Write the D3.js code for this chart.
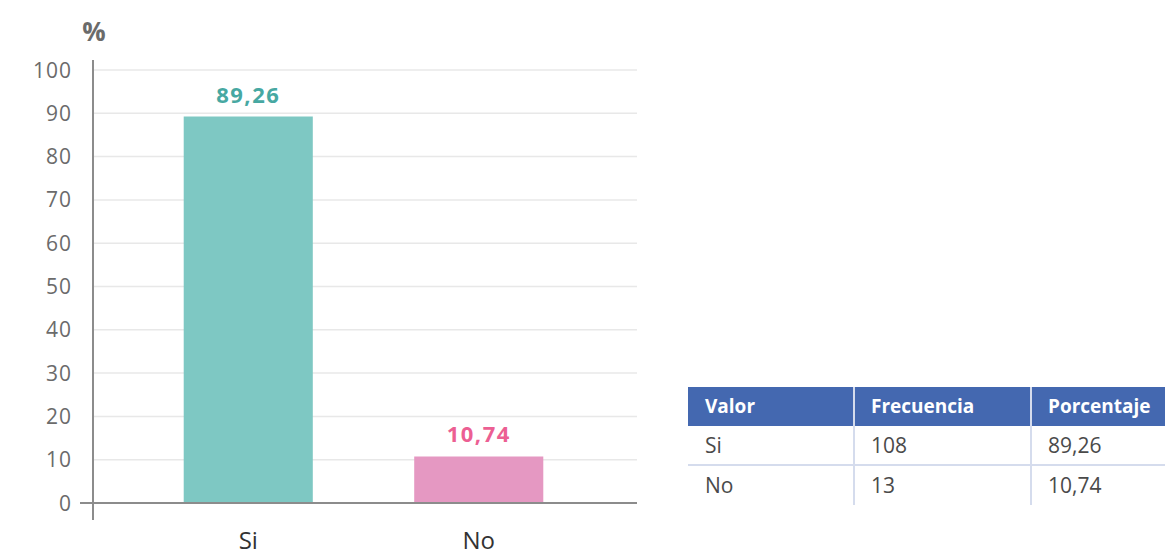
<!DOCTYPE html>
<html>
<head>
<meta charset="utf-8">
<script src="https://cdn.jsdelivr.net/npm/d3@7"></script>
<style>
  body { margin: 0; background: #fff; }
  svg { font-family: "Open Sans", "Noto Sans", sans-serif; }
</style>
</head>
<body>
<svg width="1165" height="557"></svg>
<script>
const categories = ["Si", "No"];
const percentages = [89.26, 10.74];
const frequencies = [108, 13];
const yTicks = [0, 10, 20, 30, 40, 50, 60, 70, 80, 90, 100];
const tableHeader = ["Valor", "Frecuencia", "Porcentaje"];

const barColors = ["#7ec8c3", "#e598c2"];
const labelColors = ["#47a8a2", "#ec5f93"];

var svg = d3.select("svg");

const fmt = (v) => v.toFixed(2).replace(".", ",");

// ---------------------------------------------------------------------------
// chart

const y = d3.scaleLinear().domain([0, 100]).range([503, 70]);
const x = d3.scaleBand()
            .domain(categories)
            .range([133, 594])
            .paddingInner(0.44)
            .paddingOuter(0.22);

// gridlines
svg.append("g")
   .selectAll("line")
   .data(yTicks.filter((t) => t > 0))
   .enter().append("line")
   .attr("x1", 93).attr("x2", 637)
   .attr("y1", (d) => y(d)).attr("y2", (d) => y(d))
   .attr("stroke", "#e8e8e8")
   .attr("stroke-width", 1.5);

// tick labels
svg.append("g")
   .selectAll("text")
   .data(yTicks)
   .enter().append("text")
   .attr("x", 72)
   .attr("y", (d) => y(d))
   .attr("dy", "0.36em")
   .attr("text-anchor", "end")
   .attr("font-size", 21)
   .attr("letter-spacing", 1)
   .attr("fill", "#6b6b6b")
   .text((d) => d);

svg.append("text")
   .attr("x", 94).attr("y", 41)
   .attr("text-anchor", "middle")
   .attr("font-size", 26)
   .attr("font-weight", "bold")
   .attr("fill", "#6b6b6b")
   .text("%");

// bars
svg.append("g")
   .selectAll("rect")
   .data(categories)
   .enter().append("rect")
   .attr("x", (d) => x(d))
   .attr("width", x.bandwidth())
   .attr("y", (d, i) => y(percentages[i]))
   .attr("height", (d, i) => y(0) - y(percentages[i]))
   .attr("fill", (d, i) => barColors[i]);

// value labels
svg.append("g")
   .selectAll("text")
   .data(categories)
   .enter().append("text")
   .attr("x", (d) => x(d) + x.bandwidth() / 2)
   .attr("y", (d, i) => y(percentages[i]) - 14)
   .attr("text-anchor", "middle")
   .attr("font-size", 22)
   .attr("font-weight", "bold")
   .attr("letter-spacing", 1.5)
   .attr("fill", (d, i) => labelColors[i])
   .text((d, i) => fmt(percentages[i]));

// axes lines
svg.append("line")
   .attr("x1", 93).attr("x2", 93)
   .attr("y1", 60).attr("y2", 520)
   .attr("stroke", "#8c8c8c").attr("stroke-width", 2);
svg.append("line")
   .attr("x1", 80).attr("x2", 637)
   .attr("y1", y(0)).attr("y2", y(0))
   .attr("stroke", "#8c8c8c").attr("stroke-width", 2);

// category labels
svg.append("g")
   .selectAll("text")
   .data(categories)
   .enter().append("text")
   .attr("x", (d) => x(d) + x.bandwidth() / 2)
   .attr("y", 549)
   .attr("text-anchor", "middle")
   .attr("font-size", 24)
   .attr("fill", "#333")
   .text((d) => d);

// ---------------------------------------------------------------------------
// table

const colX = [688, 854, 1031, 1165];
const rowY = [387, 426, 465, 505];

let table = svg.append("g");

table.append("rect")
     .attr("x", colX[0]).attr("y", rowY[0])
     .attr("width", colX[3] - colX[0]).attr("height", rowY[1] - rowY[0])
     .attr("fill", "#4468b0");

table.selectAll("text.head")
     .data(tableHeader)
     .enter().append("text")
     .attr("class", "head")
     .attr("x", (d, i) => colX[i] + 17)
     .attr("y", (rowY[0] + rowY[1]) / 2)
     .attr("dy", "0.36em")
     .attr("font-size", 19)
     .attr("font-weight", "bold")
     .attr("fill", "#fff")
     .text((d) => d);

// row separators
table.selectAll("line.row")
     .data([rowY[2]])
     .enter().append("line")
     .attr("x1", colX[0]).attr("x2", colX[3])
     .attr("y1", (d) => d).attr("y2", (d) => d)
     .attr("stroke", "#d5dced").attr("stroke-width", 2);

// column separators
table.selectAll("line.col")
     .data([colX[1], colX[2]])
     .enter().append("line")
     .attr("x1", (d) => d).attr("x2", (d) => d)
     .attr("y1", rowY[0]).attr("y2", rowY[3])
     .attr("stroke", "#d5dced").attr("stroke-width", 2);

const rows = categories.map((c, i) => [c, frequencies[i], fmt(percentages[i])]);
rows.forEach((r, ri) => {
  table.selectAll("text.r" + ri)
       .data(r)
       .enter().append("text")
       .attr("x", (d, i) => colX[i] + 17)
       .attr("y", (rowY[ri + 1] + rowY[ri + 2]) / 2)
       .attr("dy", "0.36em")
       .attr("font-size", 21)
       .attr("fill", "#4a4a4a")
       .text((d) => d);
});
</script>
</body>
</html>
